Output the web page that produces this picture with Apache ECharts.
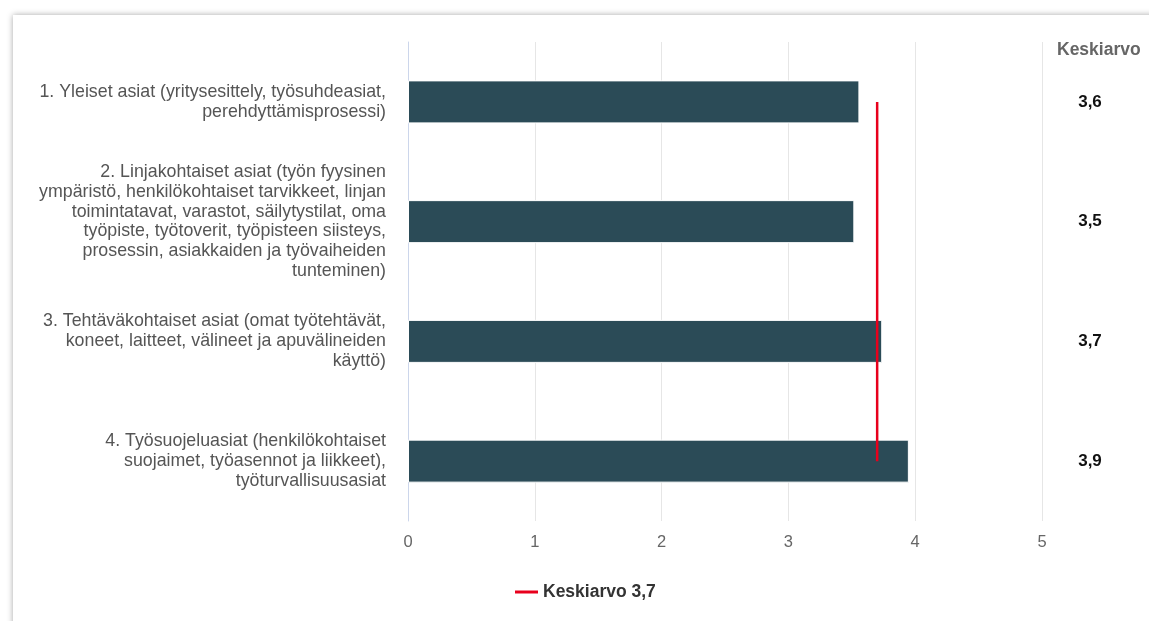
<!DOCTYPE html>
<html>
<head>
<meta charset="utf-8">
<script src="https://cdn.jsdelivr.net/npm/echarts@6/dist/echarts.min.js"></script>
<style>
  html, body { margin: 0; padding: 0; background: #ffffff; overflow: hidden; }
  #card { position: absolute; left: 13px; top: 15px; width: 1300px; height: 800px;
          background: #fff; box-shadow: 0 0 6px rgba(0,0,0,0.35); }
  #chart { position: absolute; left: 0; top: 0; width: 1149px; height: 621px; }
</style>
</head>
<body>
<div id="card"></div>
<div id="chart"></div>
<script>
const categories = [
  "1. Yleiset asiat (yritysesittely, työsuhdeasiat,\nperehdyttämisprosessi)",
  "2. Linjakohtaiset asiat (työn fyysinen\nympäristö, henkilökohtaiset tarvikkeet, linjan\ntoimintatavat, varastot, säilytystilat, oma\ntyöpiste, työtoverit, työpisteen siisteys,\nprosessin, asiakkaiden ja työvaiheiden\ntunteminen)",
  "3. Tehtäväkohtaiset asiat (omat työtehtävät,\nkoneet, laitteet, välineet ja apuvälineiden\nkäyttö)",
  "4. Työsuojeluasiat (henkilökohtaiset\nsuojaimet, työasennot ja liikkeet),\ntyöturvallisuusasiat"
];
const barValues = [3.56, 3.52, 3.74, 3.95];
const meanLabels = ["3,6", "3,5", "3,7", "3,9"];
const overallMean = [3.7, 3.7, 3.7, 3.7];
const meanName = "Keskiarvo 3,7";
const sideHeader = "Keskiarvo";
const xTicks = [0, 1, 2, 3, 4, 5];

const chart = echarts.init(document.getElementById('chart'), null, { renderer: 'canvas' });
chart.setOption({
  backgroundColor: 'transparent',
  animation: false,
  textStyle: { fontFamily: '"Liberation Sans", Arial, sans-serif' },
  title: {
    text: sideHeader,
    left: 1052, top: 36,
    textStyle: { fontSize: 17.5, fontWeight: 'bold', color: '#666666', fontFamily: '"Liberation Sans", Arial, sans-serif' }
  },
  legend: {
    data: [meanName],
    left: 510, top: 578,
    icon: 'rect', itemWidth: 23, itemHeight: 3, itemGap: 6,
    textStyle: { fontSize: 17.5, fontWeight: 'bold', color: '#333333' }
  },
  grid: { left: 408, right: 107, top: 42, bottom: 100 },
  xAxis: {
    type: 'value', min: xTicks[0], max: xTicks[xTicks.length - 1], interval: 1,
    axisLine: { show: false }, axisTick: { show: false },
    axisLabel: { color: '#666666', fontSize: 16.5, margin: 13 },
    splitLine: { show: true, lineStyle: { color: '#e6e6e6', width: 1 } }
  },
  yAxis: [
    {
      type: 'category', data: categories, inverse: true,
      axisLine: { show: true, lineStyle: { color: '#ccd6eb' } },
      axisTick: { show: false },
      axisLabel: { color: '#555555', fontSize: 17.8, lineHeight: 19.8, margin: 22, align: 'right' }
    },
    {
      type: 'category', data: categories, inverse: true, position: 'right',
      axisLine: { show: false }, axisTick: { show: false },
      axisLabel: {
        color: '#111111', fontSize: 17, fontWeight: 'bold', margin: 48, align: 'center',
        formatter: function (v, i) { return meanLabels[i]; }
      }
    }
  ],
  series: [
    {
      name: 'Arvo', type: 'bar', data: barValues, barWidth: 43,
      itemStyle: { color: '#2b4b57', borderColor: '#ffffff', borderWidth: 1 },
      z: 2
    },
    {
      name: meanName, type: 'line', data: overallMean, symbol: 'none',
      lineStyle: { color: '#e8001c', width: 2.5 },
      itemStyle: { color: '#e8001c' },
      z: 3
    }
  ]
});
</script>
</body>
</html>
